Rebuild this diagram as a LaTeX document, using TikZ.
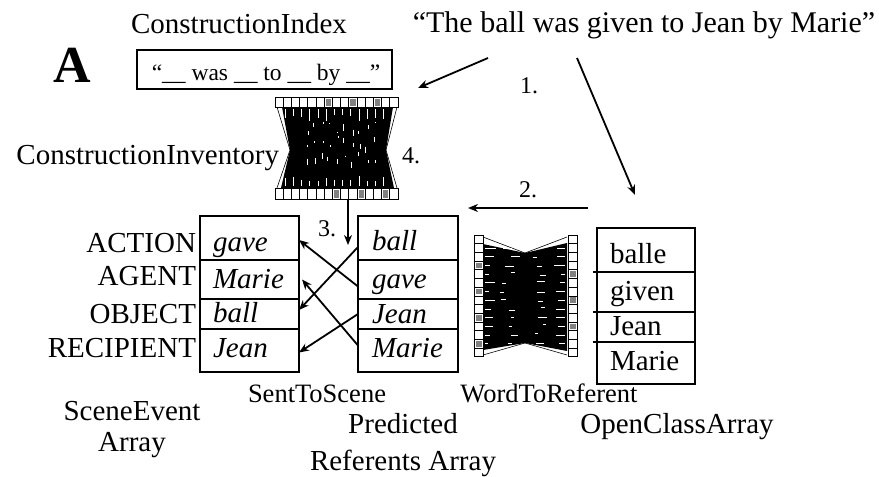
\documentclass[tikz,border=0pt]{standalone}
\usepackage{fontspec}
\setmainfont{Liberation Serif}
\usetikzlibrary{arrows.meta,calc}

\begin{document}
\begin{tikzpicture}[x=1pt,y=-1pt,
  every node/.style={inner sep=0pt, outer sep=0pt},
  lbl/.style={font=\fontsize{29}{33}\selectfont},
  sublbl/.style={font=\fontsize{26.5}{30}\selectfont},
  num/.style={font=\fontsize{24}{28}\selectfont, anchor=base},
  itword/.style={font=\fontsize{29}{33}\selectfont\itshape, anchor=base west},
  upword/.style={font=\fontsize{29}{33}\selectfont, anchor=base west},
  cell/.style={draw, line width=1.5pt, anchor=north west, minimum width=#1},
  arr/.style={line width=1.8pt, -{Stealth[length=10pt,width=8pt]}},
  weavecell/.style={draw, line width=0.8pt, fill=white},
]
\useasboundingbox (0,0) rectangle (879,477);
\fill[white] (0,0) rectangle (879,477);
\pgfmathsetseed{11}

% ---- headings ----
\node[font=\fontsize{52}{56}\selectfont\bfseries, anchor=base] (lblA) at (72,82) {A};
\node[lbl, anchor=base] (cidx) at (239,33) {ConstructionIndex};
\node[font=\fontsize{30}{34}\selectfont, anchor=base] (sent) at (644,32) {“The ball was given to Jean by Marie”};

% ---- construction index box ----
\node[cell=255pt, minimum height=39pt] (idx) at (137,50) {};
\node[font=\fontsize{23.5}{27}\selectfont, anchor=base] (idxtxt) at (266,80) {“\_\_ was \_\_ to \_\_ by \_\_”};

% ---- construction inventory (vertical weave) ----
\node[minimum width=123pt, minimum height=102pt, anchor=north west] (cinv) at (275,97) {};
\fill[black] (282,107) -- (393,107) -- (386,150) -- (394,188) -- (281,188) -- (290,150) -- cycle;
\draw[line width=0.6pt] (277,107) -- (290,150) -- (277,188);
\draw[line width=0.6pt] (397,107) -- (386,150) -- (397,188);
\foreach \k in {1,...,13} {
  \draw[white, line width=0.9pt] (277+\k*8.2, 109) -- ++(0,{9+4*rand});
  \draw[white, line width=0.9pt] (277+\k*8.2, 186) -- ++(0,{-7+3*rand});
}
\foreach \k in {2,...,11} {
  \foreach \j in {0,1,2} {
    \draw[white, line width=0.9pt] ({292+\k*7.5+2*rand}, {127+\j*15+6*rand}) -- ++(0,{4+3*rand});
  }
}
\foreach \k in {0,...,14} {
  \draw[weavecell] (275+\k*8.2, 97) rectangle ++(8.2,10);
  \draw[weavecell] (275+\k*8.2, 188) rectangle ++(8.2,11);
}
\foreach \k in {6,9,12} {
  \fill[gray] (276.5+\k*8.2, 98.5) rectangle ++(5.2,7);
}
\foreach \k in {7,10,13} {
  \fill[gray] (276.5+\k*8.2, 189.5) rectangle ++(5.2,8);
}
\node[lbl, anchor=base east] (cinvlbl) at (279,164) {ConstructionInventory};
\node[num] (n4) at (411,163) {4.};

% ---- scene event array ----
\node[cell=99pt, minimum height=44pt] (se1) at (200,216) {};
\node[cell=99pt, minimum height=39pt] (se2) at (200,260) {};
\node[cell=99pt, minimum height=30pt] (se3) at (200,299) {};
\node[cell=99pt, minimum height=43pt] (se4) at (200,329) {};
\node[itword] (sw1) at (213,251) {gave};
\node[itword] (sw2) at (213,288) {Marie};
\node[itword] (sw3) at (213,322) {ball};
\node[itword] (sw4) at (213,357) {Jean};
\node[lbl, anchor=base east] (r1) at (196,252) {ACTION};
\node[lbl, anchor=base east] (r2) at (196,285) {AGENT};
\node[lbl, anchor=base east] (r3) at (196,323) {OBJECT};
\node[lbl, anchor=base east] (r4) at (196,357) {RECIPIENT};

% ---- predicted referents array ----
\node[cell=100pt, minimum height=44pt] (pr1) at (358,216) {};
\node[cell=100pt, minimum height=39pt] (pr2) at (358,260) {};
\node[cell=100pt, minimum height=30pt] (pr3) at (358,299) {};
\node[cell=100pt, minimum height=43pt] (pr4) at (358,329) {};
\node[itword] (pw1) at (372,250) {ball};
\node[itword] (pw2) at (372,288) {gave};
\node[itword] (pw3) at (372,323) {Jean};
\node[itword] (pw4) at (372,357) {Marie};

% ---- word-to-referent (horizontal weave) ----
\node[minimum width=103pt, minimum height=122pt, anchor=north west] (w2r) at (474,235) {};
\fill[black] (483,244) -- (525,253) -- (567,243) -- (567,351) -- (525,343) -- (483,350) -- cycle;
\draw[line width=0.6pt] (483,237) -- (525,253) -- (567,237);
\draw[line width=0.6pt] (483,355) -- (525,343) -- (567,355);
\foreach \j in {1,...,12} {
  \draw[white, line width=1pt] (485, {239.4+\j*8.7}) -- ++({7+4*rand},0);
  \draw[white, line width=1pt] (565, {239.4+\j*8.7}) -- ++({-7+4*rand},0);
  \draw[white, line width=1pt] ({505+6*rand}, {239.4+\j*8.7+2*rand}) -- ++({6+3*rand},0);
  \draw[white, line width=1pt] ({537+6*rand}, {239.4+\j*8.7+2*rand}) -- ++({6+3*rand},0);
}
\foreach \k in {0,...,13} {
  \draw[weavecell] (474, 235+\k*8.7) rectangle ++(9,8.7);
  \draw[weavecell] (568, 235+\k*8.7) rectangle ++(9,8.7);
}
\foreach \k in {3,6,9,12} {
  \fill[gray] (475.5, 236.5+\k*8.7) rectangle ++(6,5.7);
}
\foreach \k in {4,7,10} {
  \fill[gray] (569.5, 236.5+\k*8.7) rectangle ++(6,5.7);
}

% ---- open class array ----
\node[cell=98pt, minimum height=44pt] (oc1) at (597,228) {};
\node[cell=98pt, minimum height=40pt] (oc2) at (597,272) {};
\node[cell=98pt, minimum height=30pt] (oc3) at (597,312) {};
\node[cell=98pt, minimum height=42pt] (oc4) at (597,342) {};
\foreach \c in {oc2,oc3,oc4} {
  \draw[line width=1.5pt] (\c.north west) -- ++(-4,0);
}
\node[upword] (ow1) at (610,263) {balle};
\node[upword] (ow2) at (610,300) {given};
\node[upword] (ow3) at (610,335) {Jean};
\node[upword] (ow4) at (610,370) {Marie};

% ---- captions ----
\node[sublbl, anchor=base] (capS2S) at (317,402) {SentToScene};
\node[sublbl, anchor=base] (capW2R) at (549,402) {WordToReferent};
\node[lbl, anchor=base] (capSE1) at (132,420) {SceneEvent};
\node[lbl, anchor=base] (capSE2) at (132,451) {Array};
\node[lbl, anchor=base] (capPR1) at (403,433) {Predicted};
\node[lbl, anchor=base] (capPR2) at (403,470) {Referents Array};
\node[lbl, anchor=base] (capOC) at (677,433) {OpenClassArray};

% ---- numbered steps ----
\node[num] (n1) at (529,93) {1.};
\node[num] (n2) at (528,197) {2.};
\node[num] (n3) at (327,236) {3.};

\coordinate (s1a) at (488,58);
\coordinate (t1a) at (418,88);
\coordinate (s1b) at (577,58);
\coordinate (t1b) at (635,195);
\coordinate (s2) at (588,208);
\coordinate (t2) at (468,208);
\coordinate (t3) at (348,245);

\draw[arr] (s1a) -- (t1a);
\draw[arr] (s1b) -- (t1b);
\draw[arr] (s2) -- (t2);
\draw[arr] ([xshift=11.5pt]cinv.south) -- (t3);

% ---- sentence-to-scene mapping ----
\draw[arr] ([yshift=-7pt]pr2.west) -- ([yshift=-2pt]se1.east);
\draw[arr] ([yshift=-9pt]pr1.west) -- ([yshift=4pt]se3.east);
\draw[arr] (pr3.west) -- ([yshift=-2pt]se4.east);
\draw[arr] ([yshift=5pt]pr4.west) -- ([xshift=3pt]se2.east);
\end{tikzpicture}
\end{document}
